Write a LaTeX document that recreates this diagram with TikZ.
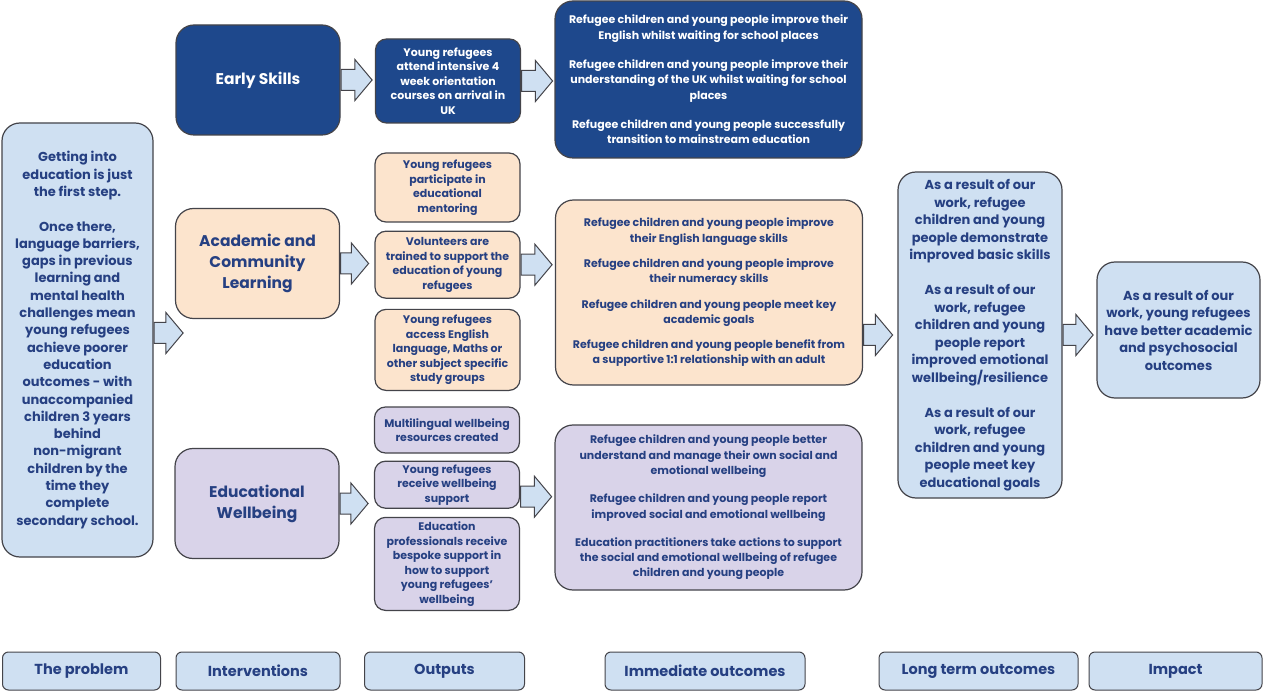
\documentclass[tikz,border=0pt]{standalone}
\usepackage{fontspec}
\setmainfont{Poppins}
\usetikzlibrary{shapes.arrows,positioning,calc}

\definecolor{navy}{RGB}{30,72,140}
\definecolor{inkblue}{RGB}{38,64,130}
\definecolor{paleblue}{RGB}{207,224,242}
\definecolor{peach}{RGB}{252,228,205}
\definecolor{lilac}{RGB}{217,211,233}
\definecolor{boxline}{RGB}{68,68,74}

\tikzset{
  box/.style={draw=boxline, line width=1.2pt, rounded corners=18pt, align=center, inner sep=2pt, text=inkblue},
  navybox/.style={box, fill=navy, text=white},
  bluebox/.style={box, fill=paleblue},
  peachbox/.style={box, fill=peach},
  lilacbox/.style={box, fill=lilac},
  headbox/.style={minimum width=164pt, minimum height=110pt, font=\bfseries\fontsize{15.5}{21}\selectfont},
  outbox/.style={minimum width=145pt, rounded corners=11pt, font=\bfseries\fontsize{11}{14.5}\selectfont},
  resbox/.style={minimum width=307pt, font=\bfseries\fontsize{11}{15.3}\selectfont},
  tagbox/.style={draw=boxline, line width=1pt, fill=paleblue, text=inkblue, rounded corners=6pt, minimum height=38pt, font=\bfseries\fontsize{14.5}{16}\selectfont},
  blockarrow/.style={shape=single arrow, anchor=tail, draw=boxline, fill=paleblue, line width=1pt, inner xsep=0pt, inner ysep=10pt, single arrow head extend=10pt, single arrow tip angle=100, minimum height=31pt}
}

\begin{document}
\begin{tikzpicture}[x=1pt,y=-1pt]
\fill[white] (0,0) rectangle (1266,692);
\useasboundingbox (0,0) rectangle (1266,692);

% the problem
\node[bluebox, minimum width=151pt, minimum height=434pt, font=\bfseries\fontsize{13}{17.3}\selectfont] (prob) at (77.5,340)
  {Getting into\\education is just\\the first step.\\[17.3pt]
   Once there,\\language barriers,\\gaps in previous\\learning and\\mental health\\challenges mean\\young refugees\\achieve poorer\\education\\outcomes - with\\unaccompanied\\children 3 years\\behind\\non-migrant\\children by the\\time they\\complete\\secondary school.};

% interventions
\node[navybox, headbox] (es) at (258,80) {Early Skills};
\node[peachbox, headbox] (acl) at (257.5,263.5) {Academic and\\Community\\Learning};
\node[lilacbox, headbox] (ew) at (257,503.5) {Educational\\Wellbeing};

% outputs
\node[navybox, outbox, minimum height=84pt] (eso) at (448,81) {Young refugees\\attend intensive 4\\week orientation\\courses on arrival in\\UK};
\node[peachbox, outbox, minimum height=69pt] (po1) at (447.5,187.5) {Young refugees\\participate in\\educational\\mentoring};
\node[peachbox, outbox, minimum height=67pt, below=8pt of po1] (po2) {Volunteers are\\trained to support the\\education of young\\refugees};
\node[peachbox, outbox, minimum height=81pt, below=10pt of po2] (po3) {Young refugees\\access English\\language, Maths or\\other subject specific\\study groups};
\node[lilacbox, outbox, minimum height=46pt] (lo1) at (447,430) {Multilingual wellbeing\\resources created};
\node[lilacbox, outbox, minimum height=47pt, below=7pt of lo1] (lo2) {Young refugees\\receive wellbeing\\support};
\node[lilacbox, outbox, minimum height=93pt, below=8pt of lo2] (lo3) {Education\\professionals receive\\bespoke support in\\how to support\\young refugees'\\wellbeing};

% immediate outcomes
\node[navybox, resbox, minimum height=157pt] (eout) at (708.5,79.5)
  {Refugee children and young people improve their\\English whilst waiting for school places\\[14pt]
   Refugee children and young people improve their\\understanding of the UK whilst waiting for school\\places\\[14pt]
   Refugee children and young people successfully\\transition to mainstream education};
\node[peachbox, resbox, minimum height=185pt] (pout) at (709,292.5)
  {Refugee children and young people improve\\their English language skills\\[10pt]
   Refugee children and young people improve\\their numeracy skills\\[10pt]
   Refugee children and young people meet key\\academic goals\\[10pt]
   Refugee children and young people benefit from\\a supportive 1:1 relationship with an adult};
\node[lilacbox, resbox, minimum height=165pt] (lout) at (708.5,507.5)
  {Refugee children and young people better\\understand and manage their own social and\\emotional wellbeing\\[13pt]
   Refugee children and young people report\\improved social and emotional wellbeing\\[13pt]
   Education practitioners take actions to support\\the social and emotional wellbeing of refugee\\children and young people};

% long term outcomes and impact
\node[bluebox, minimum width=164pt, minimum height=326pt, font=\bfseries\fontsize{13}{17.5}\selectfont] (lt) at (980,335)
  {As a result of our\\work, refugee\\children and young\\people demonstrate\\improved basic skills\\[17.5pt]
   As a result of our\\work, refugee\\children and young\\people report\\improved emotional\\wellbeing/resilience\\[17.5pt]
   As a result of our\\work, refugee\\children and young\\people meet key\\educational goals};
\node[bluebox, minimum width=163pt, minimum height=136pt, font=\bfseries\fontsize{13}{17.5}\selectfont] (imp) at (1178.5,330)
  {As a result of our\\work, young refugees\\have better academic\\and psychosocial\\outcomes};

% arrows
\node[blockarrow, minimum height=29pt] (probarr) at ([yshift=7pt]prob.east) {};
\node[blockarrow] (esarr) at (es.east) {};
\node[blockarrow] (esoarr) at (eso.east) {};
\node[blockarrow, minimum height=28pt] (aclarr) at (acl.east) {};
\node[blockarrow] (poarr) at (po2.east) {};
\node[blockarrow, minimum height=28pt] (ewarr) at (ew.east) {};
\node[blockarrow] (loarr) at ([yshift=-12pt]lo2.east) {};
\node[blockarrow, minimum height=29pt] (poutarr) at (pout.east |- lt.west) {};
\node[blockarrow, minimum height=30pt] (ltarr) at (lt.east) {};

% column labels
\node[tagbox, minimum width=158pt] (tprob) at (81.5,671) {The problem};
\node[tagbox, minimum width=164pt] (tint) at (258,671) {Interventions};
\node[tagbox, minimum width=160pt] (tout) at (444.5,671) {Outputs};
\node[tagbox, minimum width=200pt] (timm) at (705,671) {Immediate outcomes};
\node[tagbox, minimum width=199pt] (tlong) at (978.5,671) {Long term outcomes};
\node[tagbox, minimum width=173pt] (timp) at (1175.5,671) {Impact};
\end{tikzpicture}
\end{document}
